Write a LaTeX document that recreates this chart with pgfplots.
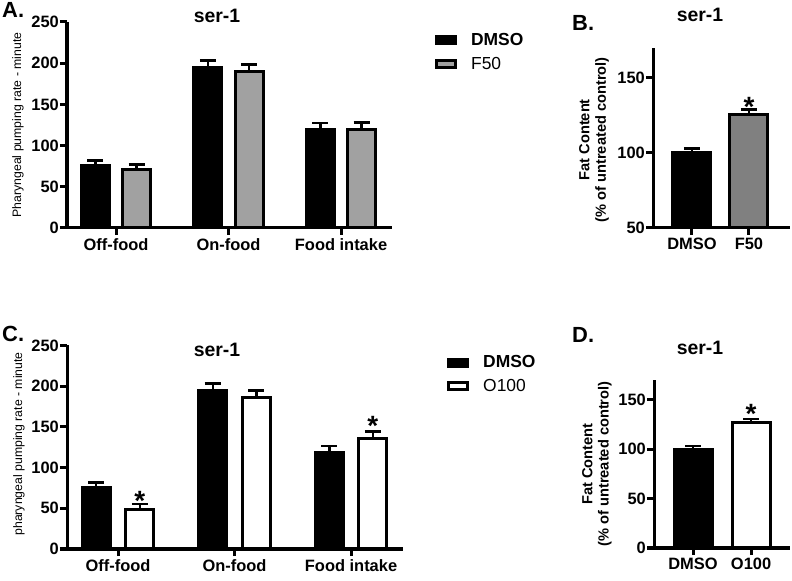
\documentclass[border=0pt]{standalone}
\usepackage{pgfplots}
\pgfplotsset{compat=1.18}
\usepackage{fontspec}
\setmainfont{Liberation Sans}
\definecolor{lgray}{gray}{0.63}
\definecolor{dgray}{gray}{0.50}
\pgfplotsset{
  prism/.style={
    scale only axis,
    axis lines=left,
    axis line style={-, line width=3bp},
    tick align=outside,
    major tick length=7bp,
    every tick/.style={line width=3bp, black},
    minor tick num=0,
    ticklabel style={font=\fontsize{16.5}{18}\selectfont\bfseries},
    yticklabel style={inner sep=1bp},
    /pgf/number format/assume math mode=true,
    /pgf/number format/1000 sep={},
    error bars/y dir=plus,
    error bars/y explicit,
    error bars/error bar style={line width=2.5bp, black},
    error bars/error mark options={rotate=90, line width=2.5bp, mark size=8bp, black},
  },
  lgd/.style={
    legend style={draw=none, fill=none,
      font=\fontsize{17.5}{19}\selectfont, row sep=6bp, inner sep=0pt,
      /tikz/every odd column/.append style={column sep=12bp}},
    legend cell align=left,
    legend image code/.code={\draw[##1, line width=3bp] (1.5bp,-3.5bp) rectangle (20.5bp,3.5bp);},
  },
}
\begin{document}
\begin{tikzpicture}
\useasboundingbox (0bp,0bp) rectangle (792bp,581bp);

% ---------- Panel A ----------
\begin{axis}[prism, lgd, at={(67bp,353bp)}, anchor=south west,
  width=325bp, height=206bp,
  xmin=-0.436, xmax=2.453, ymin=0, ymax=250,
  ytick={0,50,100,150,200,250},
  xtick={0,1,2}, xticklabels={Off-food,On-food,Food intake},
  ylabel={Pharyngeal pumping rate - minute},
  ylabel style={font=\fontsize{12.3}{14}\selectfont, at={(axis description cs:-0.151,0.5)}, anchor=center},
  legend style={at={(axis description cs:1.132,0.955)}, anchor=north west},
]
\addplot[ybar, bar shift=0pt, fill=black, draw=black, line width=3bp, bar width=0.249] coordinates {
  (-0.184,76) +- (0,6)
  (0.816,195) +- (0,8.5)
  (1.816,119) +- (0,8.5)
};
\addlegendentry{\textbf{DMSO}}
\addplot[ybar, bar shift=0pt, fill=lgray, draw=black, line width=3bp, bar width=0.249] coordinates {
  (0.184,70.5) +- (0,6.5)
  (1.184,190) +- (0,8.5)
  (2.184,119.5) +- (0,8.5)
};
\addlegendentry{F50}
\end{axis}

% ---------- Panel B ----------
\begin{axis}[prism, at={(653bp,353bp)}, anchor=south west,
  width=137bp, height=180bp,
  xmin=-0.684, xmax=1.72, ymin=50, ymax=170,
  ytick={50,100,150},
  xtick={0,1}, xticklabels={DMSO,F50},
  ylabel={Fat Content\\(\% of untreated control)},
  ylabel style={font=\fontsize{14.7}{16.5}\selectfont\bfseries, align=center, at={(axis description cs:-0.43,0.49)}, anchor=center},
]
\addplot[ybar, bar shift=0pt, fill=black, draw=black, line width=3bp, bar width=0.667] coordinates {(0,100) +- (0,3)};
\addplot[ybar, bar shift=0pt, fill=dgray, draw=black, line width=3bp, bar width=0.667] coordinates {(1,125.5) +- (0,3.5)};
\node[font=\fontsize{28}{28}\selectfont\bfseries, anchor=base] at (axis cs:1,124.5) {*};
\end{axis}

% ---------- Panel C ----------
\begin{axis}[prism, lgd, at={(67bp,32bp)}, anchor=south west,
  width=336bp, height=203.6bp,
  xmin=-0.438, xmax=2.446, ymin=0, ymax=250,
  ytick={0,50,100,150,200,250},
  xtick={0,1,2}, xticklabels={Off-food,On-food,Food intake},
  ylabel={pharyngeal pumping rate - minute},
  ylabel style={font=\fontsize{12.3}{14}\selectfont, at={(axis description cs:-0.143,0.516)}, anchor=center},
  legend style={at={(axis description cs:1.131,0.96)}, anchor=north west},
]
\addplot[ybar, bar shift=0pt, fill=black, draw=black, line width=3bp, bar width=0.24] coordinates {
  (-0.187,76) +- (0,5.5)
  (0.813,194.5) +- (0,8.5)
  (1.813,118) +- (0,8.5)
};
\addlegendentry{\textbf{DMSO}}
\addplot[ybar, bar shift=0pt, fill=white, draw=black, line width=3bp, bar width=0.24] coordinates {
  (0.187,49) +- (0,6.5)
  (1.187,186) +- (0,8.5)
  (2.187,135.5) +- (0,8.5)
};
\addlegendentry{O100}
\node[font=\fontsize{28}{28}\selectfont\bfseries, anchor=base] at (axis cs:0.187,47.5) {*};
\node[font=\fontsize{28}{28}\selectfont\bfseries, anchor=base] at (axis cs:2.187,139.5) {*};
\end{axis}

% ---------- Panel D ----------
\begin{axis}[prism, at={(654bp,33bp)}, anchor=south west,
  width=136bp, height=168bp,
  xmin=-0.672, xmax=1.67, ymin=0, ymax=170,
  ytick={0,50,100,150},
  xtick={0,1}, xticklabels={DMSO,O100},
  ylabel={Fat Content\\(\% of untreated control)},
  ylabel style={font=\fontsize{14.7}{16.5}\selectfont\bfseries, align=center, at={(axis description cs:-0.42,0.5)}, anchor=center},
]
\addplot[ybar, bar shift=0pt, fill=black, draw=black, line width=3bp, bar width=0.655] coordinates {(0,100) +- (0,3)};
\addplot[ybar, bar shift=0pt, fill=white, draw=black, line width=3bp, bar width=0.655] coordinates {(1,127) +- (0,3.5)};
\node[font=\fontsize{28}{28}\selectfont\bfseries, anchor=base] at (axis cs:1,126) {*};
\end{axis}

% ---------- titles and panel letters ----------
\node[font=\fontsize{19.5}{21}\selectfont\bfseries] at (217bp,565bp) {ser-1};
\node[font=\fontsize{19.5}{21}\selectfont\bfseries] at (700bp,566bp) {ser-1};
\node[font=\fontsize{19.5}{21}\selectfont\bfseries] at (217bp,231bp) {ser-1};
\node[font=\fontsize{19.5}{21}\selectfont\bfseries] at (700bp,233bp) {ser-1};
\node[font=\fontsize{22}{24}\selectfont\bfseries, anchor=west, inner sep=0pt] at (2bp,571bp) {A.};
\node[font=\fontsize{22}{24}\selectfont\bfseries, anchor=west, inner sep=0pt] at (572bp,558bp) {B.};
\node[font=\fontsize{22}{24}\selectfont\bfseries, anchor=west, inner sep=0pt] at (2bp,247bp) {C.};
\node[font=\fontsize{22}{24}\selectfont\bfseries, anchor=west, inner sep=0pt] at (572bp,246bp) {D.};
\end{tikzpicture}
\end{document}
